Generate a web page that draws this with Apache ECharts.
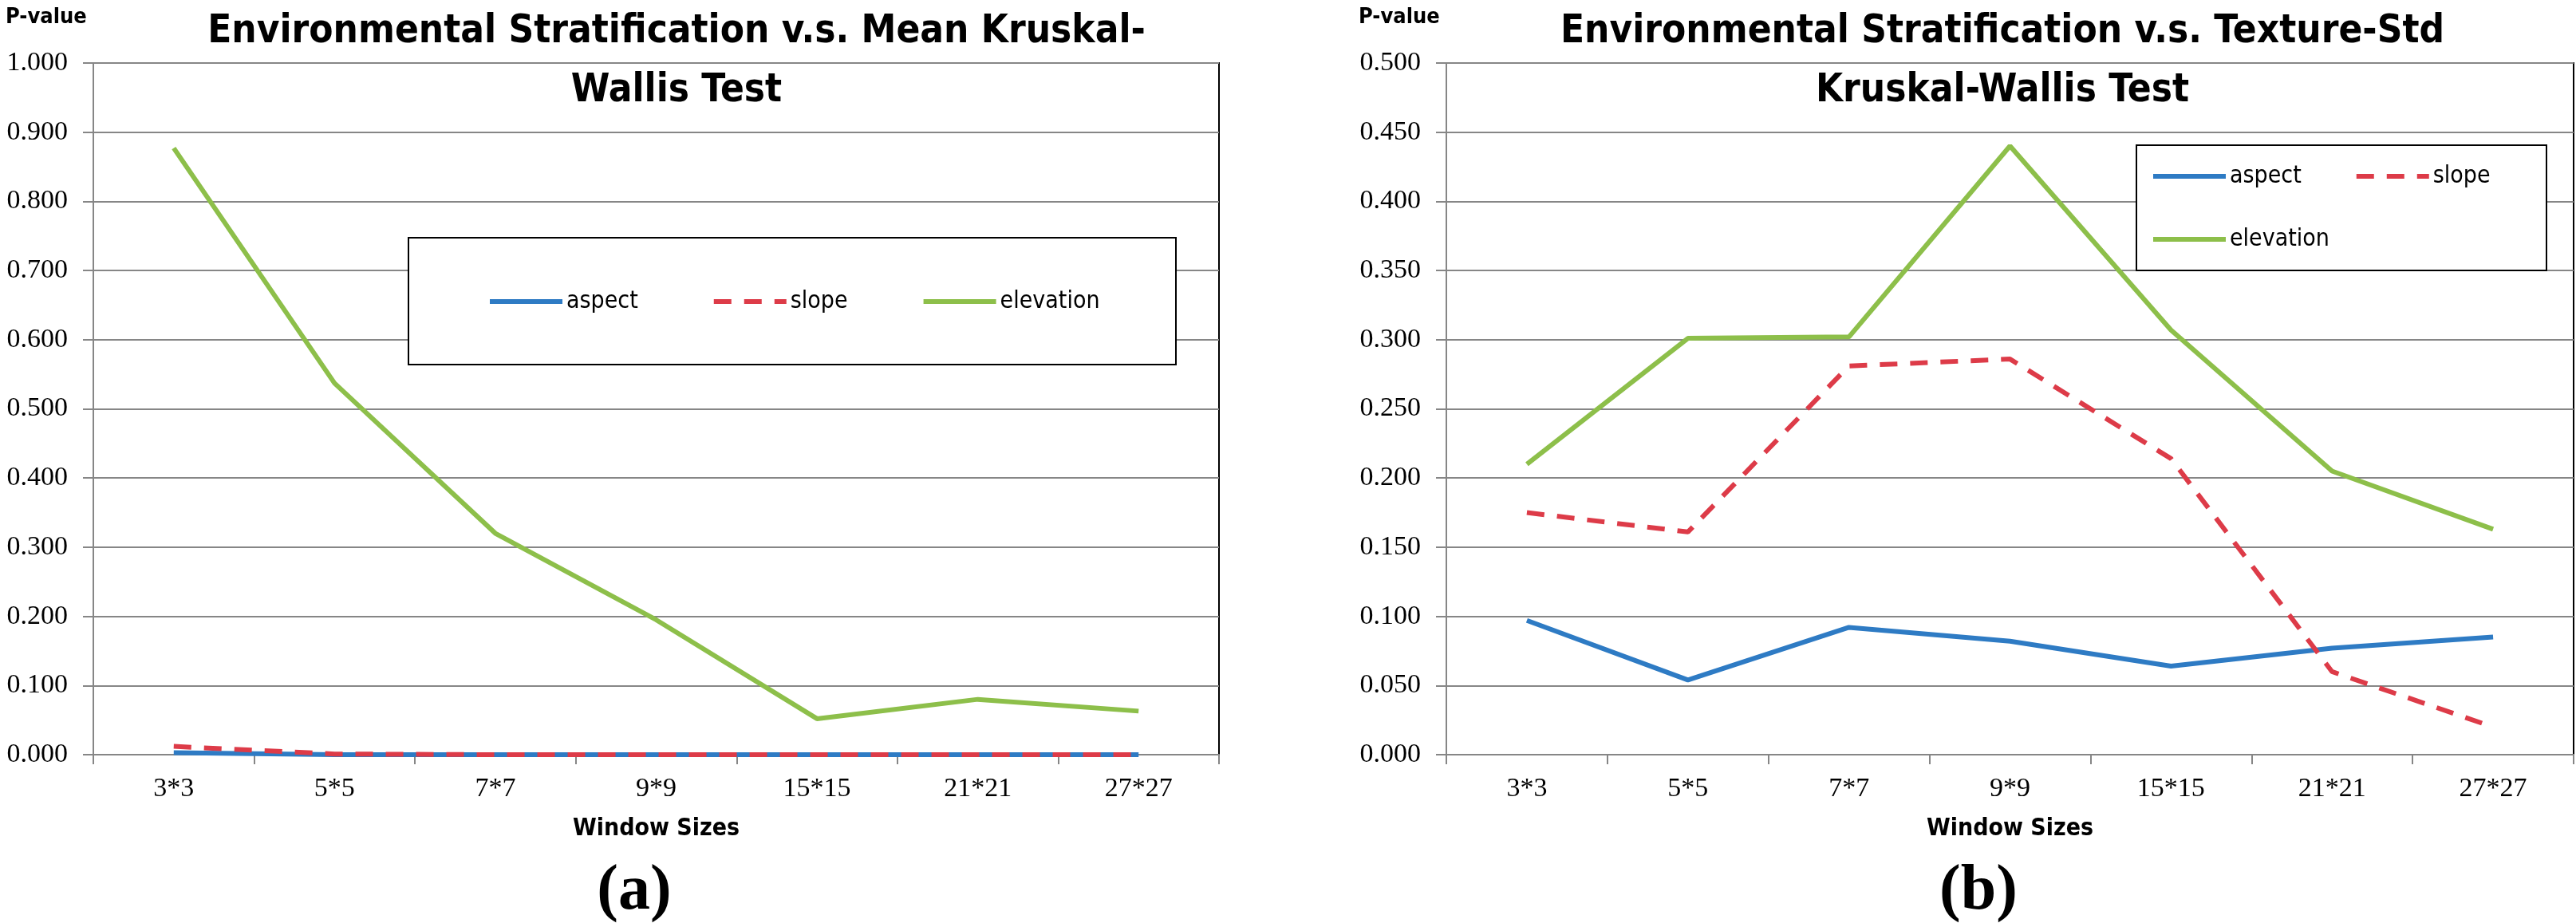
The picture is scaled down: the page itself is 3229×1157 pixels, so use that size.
<!DOCTYPE html>
<html><head><meta charset="utf-8">
<script src="https://cdn.jsdelivr.net/npm/echarts@6/dist/echarts.min.js"></script>
<style>html,body{margin:0;padding:0;background:#fff}#c{width:3229px;height:1157px}</style>
</head><body><div id="c"></div>
<script>
// ---- data ----
const categories = ['3*3', '5*5', '7*7', '9*9', '15*15', '21*21', '27*27'];
const meanAspect = [0.003, 0.000, 0.000, 0.000, 0.000, 0.000, 0.000];
const meanSlope = [0.012, 0.001, 0.000, 0.000, 0.000, 0.000, 0.000];
const meanElevation = [0.877, 0.537, 0.320, 0.195, 0.052, 0.080, 0.063];
const stdAspect = [0.097, 0.054, 0.092, 0.082, 0.064, 0.077, 0.085];
const stdSlope = [0.175, 0.161, 0.281, 0.286, 0.214, 0.060, 0.020];
const stdElevation = [0.210, 0.301, 0.302, 0.440, 0.307, 0.205, 0.163];
const seriesNames = ['aspect', 'slope', 'elevation'];
const titleA = 'Environmental Stratification v.s. Mean Kruskal-\nWallis Test';
const titleB = 'Environmental Stratification v.s. Texture-Std\nKruskal-Wallis Test';
const yAxisLabel = 'P-value';
const xAxisLabel = 'Window Sizes';
const panelLabels = ['(a)', '(b)'];

// ---- style ----
const COLORS = ['#2E7BC4', '#DD3B48', '#8DBF4A'];
const SANS = "'Liberation Sans Narrow', 'DejaVu Sans Condensed', sans-serif";
const SERIF = "'Liberation Serif', 'DejaVu Serif', serif";
const GRAY = '#868686';
const LW = 6;

const chart = echarts.init(document.getElementById('c'));

function yAxis(gridIndex, max, interval) {
  return {
    type: 'value', gridIndex, min: 0, max, interval,
    axisLine: { show: true, lineStyle: { color: GRAY, width: 2 } },
    axisTick: { show: true, length: 13, lineStyle: { color: GRAY, width: 2 } },
    axisLabel: { margin: 32, color: '#000', fontFamily: SERIF, fontSize: 34,
      formatter: v => v.toFixed(3) },
    splitLine: { show: true, lineStyle: { color: GRAY, width: 2 } }
  };
}
function xAxis(gridIndex) {
  return {
    type: 'category', gridIndex, data: categories, boundaryGap: true,
    axisLine: { show: true, lineStyle: { color: GRAY, width: 2 } },
    axisTick: { show: true, length: 12, interval: 0, lineStyle: { color: GRAY, width: 2 } },
    axisLabel: { interval: 0, margin: 26, color: '#000', fontFamily: SERIF, fontSize: 34 },
    name: xAxisLabel, nameLocation: 'middle', nameGap: 78,
    nameTextStyle: { color: '#000', fontFamily: SANS, fontWeight: 'bold', fontSize: 30 }
  };
}
function line(name, data, idx, color, dashed) {
  return {
    type: 'line', name, data, xAxisIndex: idx, yAxisIndex: idx,
    symbol: 'none', showSymbol: false, smooth: false,
    lineStyle: { color, width: LW, type: dashed ? [22, 16] : 'solid' },
    itemStyle: { color }
  };
}
const legendText = { color: '#000', fontFamily: SANS, fontSize: 30, lineHeight: 32 };
const legendCommon = {
  orient: 'horizontal', itemWidth: 91, itemHeight: 20, padding: 0,
  textStyle: legendText, lineStyle: { width: LW },
  itemStyle: { opacity: 0, borderWidth: 0 }, z: 5
};

chart.setOption({
  backgroundColor: '#fff',
  animation: false,
  color: COLORS,
  title: [
    { text: titleA, left: 848, top: 3, padding: 0, textAlign: 'center',
      textStyle: { fontFamily: SANS, fontWeight: 'bold', fontSize: 49, lineHeight: 74, color: '#000' } },
    { text: titleB, left: 2510, top: 3, padding: 0, textAlign: 'center',
      textStyle: { fontFamily: SANS, fontWeight: 'bold', fontSize: 49, lineHeight: 74, color: '#000' } },
    { text: yAxisLabel, left: 7, top: 8, padding: 0,
      textStyle: { fontFamily: SANS, fontWeight: 'bold', fontSize: 27, lineHeight: 28, color: '#000' } },
    { text: yAxisLabel, left: 1703, top: 8, padding: 0,
      textStyle: { fontFamily: SANS, fontWeight: 'bold', fontSize: 27, lineHeight: 28, color: '#000' } },
    { text: panelLabels[0], left: 795, top: 1078, padding: 0, textAlign: 'center',
      textStyle: { fontFamily: SERIF, fontWeight: 'bold', fontSize: 80, lineHeight: 80, color: '#000' } },
    { text: panelLabels[1], left: 2480, top: 1078, padding: 0, textAlign: 'center',
      textStyle: { fontFamily: SERIF, fontWeight: 'bold', fontSize: 80, lineHeight: 80, color: '#000' } }
  ],
  grid: [
    { left: 117, top: 79, width: 1411, height: 867, show: true, borderColor: '#000', borderWidth: 2, backgroundColor: 'transparent' },
    { left: 1813, top: 79, width: 1413, height: 867, show: true, borderColor: '#000', borderWidth: 2, backgroundColor: 'transparent' }
  ],
  xAxis: [xAxis(0), xAxis(1)],
  yAxis: [yAxis(0, 1, 0.1), yAxis(1, 0.5, 0.05)],
  graphic: [
    { type: 'rect', z: 3, shape: { x: 512, y: 298, width: 962, height: 159 },
      style: { fill: '#fff', stroke: '#000', lineWidth: 2 } },
    { type: 'rect', z: 3, shape: { x: 2678, y: 182, width: 514, height: 157 },
      style: { fill: '#fff', stroke: '#000', lineWidth: 2 } }
  ],
  legend: [
    Object.assign({ data: seriesNames, left: 611, top: 362, itemGap: 92 }, legendCommon),
    Object.assign({ data: seriesNames.slice(0, 2), left: 2696, top: 205, itemGap: 66 }, legendCommon),
    Object.assign({ data: seriesNames.slice(2), left: 2696, top: 284 }, legendCommon)
  ],
  series: [
    line(seriesNames[0], meanAspect, 0, COLORS[0], false),
    line(seriesNames[1], meanSlope, 0, COLORS[1], true),
    line(seriesNames[2], meanElevation, 0, COLORS[2], false),
    line(seriesNames[0], stdAspect, 1, COLORS[0], false),
    line(seriesNames[1], stdSlope, 1, COLORS[1], true),
    line(seriesNames[2], stdElevation, 1, COLORS[2], false)
  ]
});
</script></body></html>
